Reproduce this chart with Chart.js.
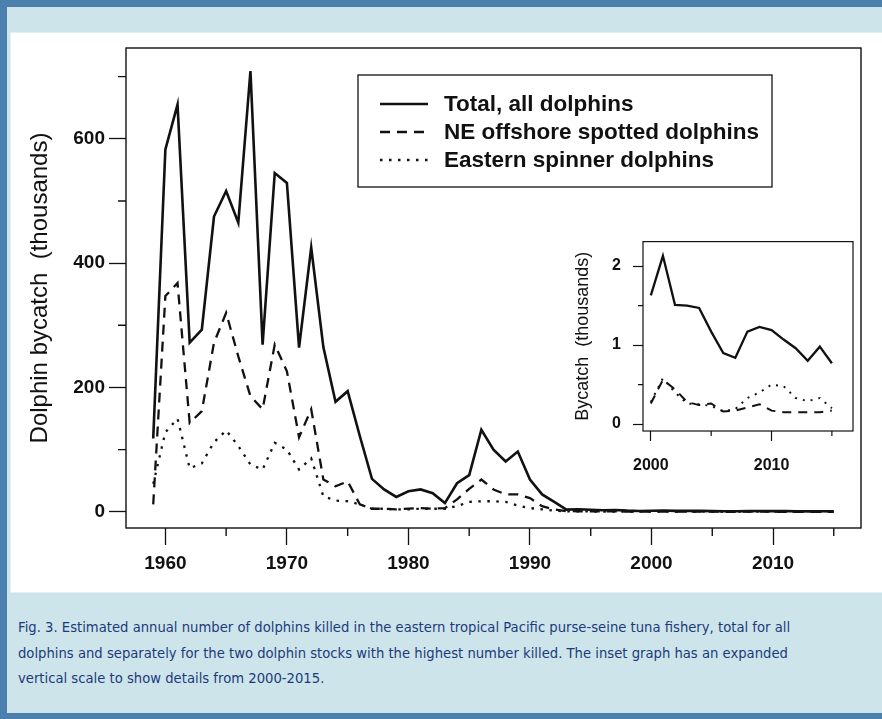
<!DOCTYPE html>
<html>
<head>
<meta charset="utf-8">
<title>Dolphin bycatch in the eastern tropical Pacific</title>
<script src="https://cdn.jsdelivr.net/npm/chart.js@4.4.0/dist/chart.umd.min.js"></script>
<style>
  html, body { margin: 0; padding: 0; }
  body { width: 882px; height: 719px; position: relative; overflow: hidden; background: #cde5ea; }
  #frame { position: absolute; left: 0; top: 0; width: 882px; height: 719px; box-sizing: border-box;
           border-top: 7px solid #4a7fae; border-left: 7px solid #4a7fae; border-bottom: 6px solid #4a7fae;
           background: #cde5ea; }
  #panel { position: absolute; left: 11px; top: 33px; width: 871px; height: 559px; background: #fff;
           box-shadow: 0 0 0 1px #e3f1f4; }
  #main { position: absolute; left: 0; top: 0; }
  #inset { position: absolute; left: 560px; top: 220px; }
  #caption { position: absolute; left: 18px; top: 615px; font-family: "DejaVu Sans", Verdana, sans-serif;
             font-size: 13.2px; line-height: 25.5px; color: #1c3a7a; white-space: nowrap; }
</style>
</head>
<body>
<div id="frame"></div>
<div id="panel"></div>
<canvas id="main" width="882" height="592"></canvas>
<canvas id="inset" width="310" height="270"></canvas>
<div id="caption">Fig. 3. Estimated annual number of dolphins killed in the eastern tropical Pacific purse-seine tuna fishery, total for all<br>dolphins and separately for the two dolphin stocks with the highest number killed. The inset graph has an expanded<br>vertical scale to show details from 2000-2015.</div>

<script>
// Annual dolphin mortality, thousands of animals
const years = [
  1959, 1960, 1961, 1962, 1963, 1964, 1965, 1966, 1967, 1968,
  1969, 1970, 1971, 1972, 1973, 1974, 1975, 1976, 1977, 1978,
  1979, 1980, 1981, 1982, 1983, 1984, 1985, 1986, 1987, 1988,
  1989, 1990, 1991, 1992, 1993, 1994, 1995, 1996, 1997, 1998,
  1999, 2000, 2001, 2002, 2003, 2004, 2005, 2006, 2007, 2008,
  2009, 2010, 2011, 2012, 2013, 2014, 2015
];
const totalAll = [
  118, 583, 655, 272, 293, 475, 516, 465, 709, 269,
  545, 529, 264, 425, 265, 177, 194, 122, 53, 36,
  24, 33, 36, 30, 14, 46, 59, 132, 100, 81,
  97, 52, 28, 16, 3.6, 4.1, 3.3, 2.5, 3.0, 1.9,
  1.3, 1.63, 2.13, 1.51, 1.50, 1.47, 1.17, 0.90, 0.84, 1.17,
  1.23, 1.19, 1.07, 0.96, 0.80, 0.98, 0.77
];
const neSpotted = [
  12, 347, 368, 143, 162, 272, 320, 250, 186, 165,
  269, 226, 120, 165, 52, 41, 49, 12, 5, 5,
  4, 5, 6, 5, 6, 20, 37, 52, 36, 28,
  28, 22, 9, 4, 1.1, 0.9, 0.8, 0.6, 0.7, 0.3,
  0.4, 0.26, 0.56, 0.44, 0.28, 0.24, 0.26, 0.16, 0.17, 0.21,
  0.25, 0.17, 0.15, 0.15, 0.15, 0.15, 0.17
];
const eSpinner = [
  45, 128, 150, 70, 78, 112, 131, 106, 76, 68,
  111, 100, 68, 86, 25, 18, 17, 12, 5, 5,
  4, 4, 5, 5, 5, 9, 16, 17, 17, 16,
  10, 6, 4, 2, 0.7, 0.6, 0.6, 0.5, 0.4, 0.4,
  0.4, 0.28, 0.58, 0.40, 0.26, 0.25, 0.23, 0.16, 0.19, 0.33,
  0.40, 0.50, 0.48, 0.33, 0.29, 0.33, 0.20
];
const seriesNames = ['Total, all dolphins', 'NE offshore spotted dolphins', 'Eastern spinner dolphins'];

// Axis ticks (labelled) and unlabelled half-step ticks
const mainYTicks = [0, 200, 400, 600];
const mainYMinor = [100, 300, 500, 700];
const mainXTicks = [1960, 1970, 1980, 1990, 2000, 2010];
const mainXMinor = [1965, 1975, 1985, 1995, 2005, 2015];
const insetStart = 2000;
const insetYTicks = [0, 1, 2];
const insetYMinor = [0.5, 1.5];
const insetXTicks = [2000, 2010];
const insetXMinor = [2005, 2015];

const INK = '#111';
const AXIS_FONT = 'Liberation Sans, Arial, sans-serif';

function pairs(xs, ys, from) {
  const out = [];
  xs.forEach((x, i) => { if (x >= from) out.push({ x: x, y: ys[i] }); });
  return out;
}

// Closed frame around the plot region plus the short half-step ticks
const frameBox = {
  id: 'frameBox',
  afterDraw(chart, args, o) {
    const { ctx, chartArea: a } = chart;
    const xs = chart.scales.x, ys = chart.scales.y;
    ctx.save();
    ctx.strokeStyle = INK;
    ctx.lineWidth = o.width;
    ctx.strokeRect(a.left, a.top, a.right - a.left, a.bottom - a.top);
    ctx.beginPath();
    o.minorX.forEach(v => { const p = xs.getPixelForValue(v); ctx.moveTo(p, a.bottom); ctx.lineTo(p, a.bottom + o.minorLen); });
    o.minorY.forEach(v => { const p = ys.getPixelForValue(v); ctx.moveTo(a.left, p); ctx.lineTo(a.left - o.minorLen, p); });
    ctx.stroke();
    ctx.restore();
  }
};

// Boxed key with line samples taken from the dataset styles
const boxLegend = {
  id: 'boxLegend',
  afterDraw(chart, args, o) {
    if (!o.show) return;
    const ctx = chart.ctx;
    ctx.save();
    ctx.strokeStyle = INK;
    ctx.lineWidth = 1.3;
    ctx.strokeRect(o.x, o.y, o.w, o.h);
    ctx.font = o.font;
    ctx.fillStyle = INK;
    ctx.textBaseline = 'middle';
    chart.data.datasets.forEach((ds, i) => {
      const yy = o.y + o.first + i * o.step;
      ctx.beginPath();
      ctx.setLineDash(ds.borderDash || []);
      ctx.lineWidth = ds.borderWidth;
      ctx.strokeStyle = ds.borderColor;
      ctx.moveTo(o.x + o.sx0, yy);
      ctx.lineTo(o.x + o.sx1, yy);
      ctx.stroke();
      ctx.setLineDash([]);
      ctx.fillText(ds.label, o.x + o.tx, yy + 1);
    });
    ctx.restore();
  }
};

function makeDatasets(from, w, dash, dot) {
  return [
    { label: seriesNames[0], data: pairs(years, totalAll, from), borderColor: INK, borderWidth: w + 0.3, borderDash: [] },
    { label: seriesNames[1], data: pairs(years, neSpotted, from), borderColor: INK, borderWidth: w, borderDash: dash },
    { label: seriesNames[2], data: pairs(years, eSpinner, from), borderColor: INK, borderWidth: w, borderDash: dot }
  ].map(d => Object.assign(d, { pointRadius: 0, tension: 0, fill: false }));
}

function axisSet(cfg) {
  return {
    x: {
      type: 'linear', min: cfg.xmin, max: cfg.xmax,
      afterBuildTicks: s => { s.ticks = cfg.xTicks.map(v => ({ value: v })); },
      afterFit: s => { s.height = cfg.xh; },
      grid: { drawOnChartArea: false, drawTicks: true, tickLength: cfg.tickLen, tickColor: INK, tickWidth: cfg.tickW },
      border: { display: false },
      ticks: { padding: cfg.xPad, color: INK, font: { family: AXIS_FONT, size: cfg.tickSize, weight: 'bold' },
               maxRotation: 0, autoSkip: false, callback: v => String(v) }
    },
    y: {
      type: 'linear', min: cfg.ymin, max: cfg.ymax,
      afterBuildTicks: s => { s.ticks = cfg.yTicks.map(v => ({ value: v })); },
      afterFit: s => { s.width = cfg.yw; },
      grid: { drawOnChartArea: false, drawTicks: true, tickLength: cfg.tickLen, tickColor: INK, tickWidth: cfg.tickW },
      border: { display: false },
      ticks: { padding: cfg.yPad, color: INK, font: { family: AXIS_FONT, size: cfg.tickSize, weight: 'bold' },
               autoSkip: false, callback: v => String(v) },
      title: { display: true, text: cfg.yTitle, color: INK,
               font: { family: AXIS_FONT, size: cfg.titleSize, weight: 'normal' },
               padding: { top: cfg.titlePad, bottom: 0 } }
    }
  };
}

new Chart(document.getElementById('main'), {
  type: 'line',
  data: { datasets: makeDatasets(0, 2.3, [10, 7], [2.5, 6.5]) },
  options: {
    responsive: false, animation: false,
    layout: { padding: { left: 0, top: 48, right: 21, bottom: 0 } },
    scales: axisSet({
      xmin: 1956.76, xmax: 2017.24, ymin: -26, ymax: 746,
      xTicks: mainXTicks, yTicks: mainYTicks, xh: 64, yw: 126,
      tickLen: 17, tickW: 1.3, tickSize: 19, xPad: 7, yPad: 4,
      yTitle: 'Dolphin bycatch  (thousands)', titleSize: 24, titlePad: 26
    }),
    plugins: {
      legend: { display: false }, tooltip: { enabled: false },
      frameBox: { width: 1.4, minorX: mainXMinor, minorY: mainYMinor, minorLen: 8 },
      boxLegend: { show: true, x: 358, y: 75, w: 414, h: 112, first: 29, step: 28,
                   sx0: 22, sx1: 70, tx: 86, font: 'bold 22.5px ' + AXIS_FONT }
    }
  },
  plugins: [frameBox, boxLegend]
});

new Chart(document.getElementById('inset'), {
  type: 'line',
  data: { datasets: makeDatasets(insetStart, 2.0, [9, 7], [2, 6]) },
  options: {
    responsive: false, animation: false,
    layout: { padding: { left: 0, top: 10, right: 17, bottom: 0 } },
    scales: axisSet({
      xmin: 1999.35, xmax: 2016.75, ymin: -0.088, ymax: 2.31,
      xTicks: insetXTicks, yTicks: insetYTicks, xh: 59, yw: 83,
      tickLen: 10, tickW: 1.2, tickSize: 16, xPad: 15, yPad: 12,
      yTitle: 'Bycatch  (thousands)', titleSize: 18, titlePad: 12
    }),
    plugins: {
      legend: { display: false }, tooltip: { enabled: false },
      frameBox: { width: 1.2, minorX: insetXMinor, minorY: insetYMinor, minorLen: 5 },
      boxLegend: { show: false }
    }
  },
  plugins: [frameBox, boxLegend]
});
</script>
</body>
</html>
